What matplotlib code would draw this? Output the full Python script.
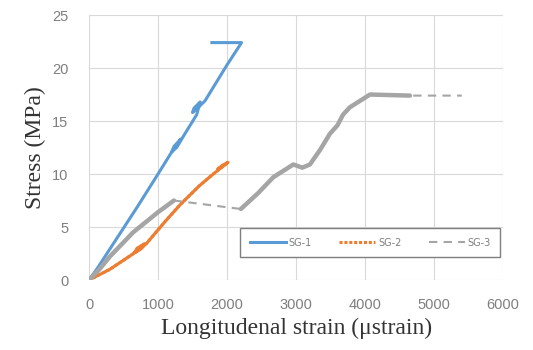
import matplotlib
matplotlib.use("Agg")
import matplotlib.pyplot as plt

# SG-1 (blue)
sg1_strain = [0, 120, 230, 420, 700, 1000, 1200, 1290, 1330, 1230, 1200, 1270, 1380,
              1560, 1610, 1520, 1500, 1570, 1680, 2000, 2210, 1780]
sg1_stress = [0, 1.1, 2.2, 4.1, 6.9, 10.0, 12.1, 12.9, 13.3, 12.6, 12.1, 12.5, 13.7,
              15.6, 16.8, 16.2, 15.8, 16.2, 16.9, 20.3, 22.4, 22.4]

# SG-2 (orange)
sg2_strain = [0, 300, 600, 760, 800, 700, 660, 740, 840, 1100, 1320, 1600, 1800,
              2015, 1930, 1870]
sg2_stress = [0, 1.0, 2.3, 3.0, 3.4, 3.0, 2.6, 2.9, 3.5, 5.5, 7.1, 8.9, 10.0,
              11.1, 10.8, 10.5]

# SG-3 (grey); points 5->6 and 18->19 are the gaps drawn dashed
sg3_strain = [0, 150, 300, 640, 1000, 1230, 2200, 2450, 2670, 2960, 3090, 3200,
              3350, 3490, 3600, 3680, 3780, 4070, 4650, 5400]
sg3_stress = [0, 1.0, 2.2, 4.5, 6.4, 7.5, 6.7, 8.2, 9.7, 10.9, 10.6, 10.9,
              12.3, 13.8, 14.6, 15.6, 16.3, 17.5, 17.4, 17.4]
sg3_solid = [(0, 6), (6, 19)]

labels = ["SG-1", "SG-2", "SG-3"]
c_blue, c_orange, c_grey = "#5B9BD5", "#ED7D31", "#A5A5A5"

fig = plt.figure(figsize=(5.33, 3.5), dpi=100)
ax = fig.add_axes([0.167, 0.2, 0.777, 0.757])

ax.plot(sg1_strain, sg1_stress, color=c_blue, lw=2.2, label=labels[0])
# dense test data looks solid on the plot, dotted only in the legend
ax.plot(sg2_strain, sg2_stress, color=c_orange, lw=2.2, ls=(0, (1, 0.6)), label=labels[1])
ax.plot(sg2_strain, sg2_stress, color=c_orange, lw=2.2)
ax.plot(sg3_strain, sg3_stress, color=c_grey, lw=1.5, ls=(0, (4, 3)), label=labels[2])
for i0, i1 in sg3_solid:
    ax.plot(sg3_strain[i0:i1], sg3_stress[i0:i1], color=c_grey, lw=3.2,
            solid_capstyle="round")

ax.set_xlim(0, 6000)
ax.set_ylim(0, 25)
ax.set_xticks(range(0, 6001, 1000))
ax.set_yticks(range(0, 26, 5))
ax.grid(True, color="#D9D9D9", lw=0.8)
ax.set_axisbelow(True)
for s in ax.spines.values():
    s.set_visible(False)
ax.tick_params(length=0, labelsize=10.5, labelcolor="#7F7F7F")
ax.tick_params(axis="x", pad=13)
ax.tick_params(axis="y", pad=15)
for t in ax.get_xticklabels() + ax.get_yticklabels():
    t.set_family("Liberation Sans")

serif = {"family": "Liberation Serif", "size": 17, "color": "#333333"}
ax.set_xlabel("Longitudenal strain (\u03bcstrain)", fontdict=serif, labelpad=4)
ax.set_ylabel("Stress (MPa)", fontdict=serif, labelpad=4)

leg = ax.legend(loc="center", ncol=3, bbox_to_anchor=(0.679, 0.1415),
                fontsize=7, handlelength=3.7, handletextpad=0.3, columnspacing=2.8,
                borderpad=1.0, fancybox=False, framealpha=1,
                edgecolor="#7F7F7F", borderaxespad=0)
leg.get_frame().set_linewidth(1.0)
for t in leg.get_texts():
    t.set_color("#7F7F7F")

fig.savefig("out.png", dpi=100)
